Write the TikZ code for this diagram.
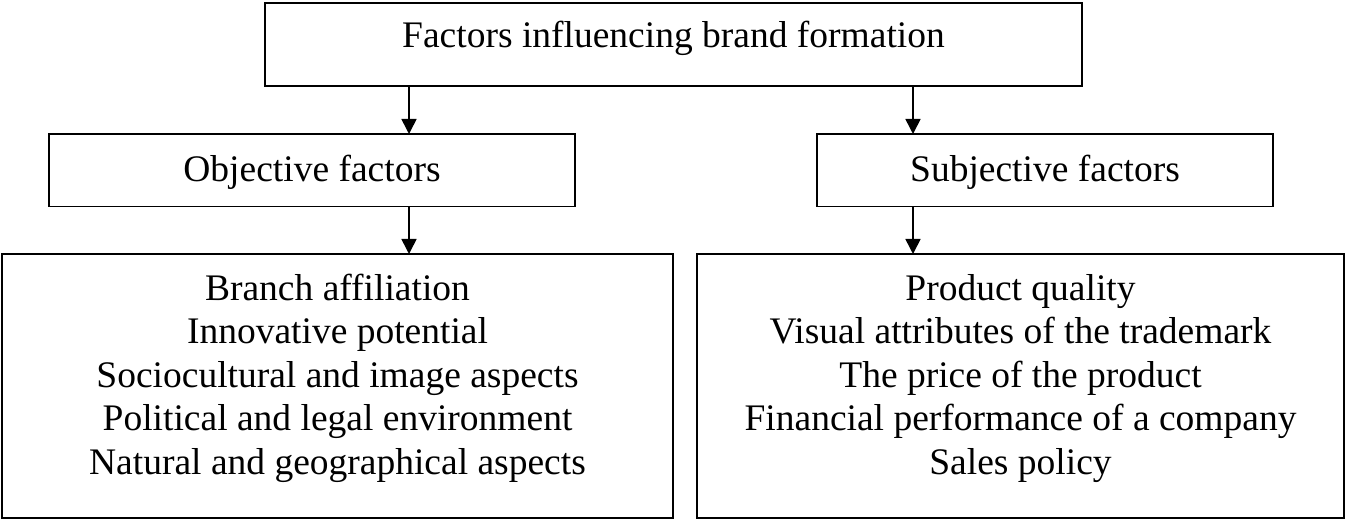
\documentclass[tikz,border=0pt]{standalone}
\usepackage{fontspec}
\setmainfont{Liberation Serif}
\usetikzlibrary{arrows.meta}
\begin{document}
\begin{tikzpicture}[x=1pt,y=1pt,
  box/.style={draw=black,line width=1.6pt,rectangle,inner sep=0pt,outer sep=0pt},
  lbl/.style={inner sep=0pt,anchor=base,font=\fontsize{37.5}{43.5}\selectfont},
  arr/.style={line width=1.6pt,-{Triangle[width=15pt,length=15pt]}}]
\useasboundingbox (0,0) rectangle (1346,520);
% boxes
\node[box,minimum width=817pt,minimum height=83pt] (top) at (673.5,475.5) {};
\node[box,minimum width=526pt,minimum height=72.5pt] (obj) at (312,349.75) {};
\node[box,minimum width=456pt,minimum height=72.5pt] (subj) at (1045,349.75) {};
\node[box,minimum width=671pt,minimum height=264pt] (objlist) at (337.5,134) {};
\node[box,minimum width=647pt,minimum height=264pt] (subjlist) at (1020.5,134) {};
% texts
\node[lbl] (toptxt) at (673.5,472) {Factors influencing brand formation};
\node[lbl] (objtxt) at (312,338) {Objective factors};
\node[lbl] (subjtxt) at (1045,338) {Subjective factors};
\node[lbl] (o1) at (337.5,220) {Branch affiliation};
\node[lbl] (o2) at (337.5,176.5) {Innovative potential};
\node[lbl] (o3) at (337.5,133) {Sociocultural and image aspects};
\node[lbl] (o4) at (337.5,89.5) {Political and legal environment};
\node[lbl] (o5) at (337.5,46) {Natural and geographical aspects};
\node[lbl] (s1) at (1020.5,220) {Product quality};
\node[lbl] (s2) at (1020.5,176.5) {Visual attributes of the trademark};
\node[lbl] (s3) at (1020.5,133) {The price of the product};
\node[lbl] (s4) at (1020.5,89.5) {Financial performance of a company};
\node[lbl] (s5) at (1020.5,46) {Sales policy};
% arrows
\draw[arr] (409,0 |- top.south) -- (409,0 |- obj.north);
\draw[arr] (913,0 |- top.south) -- (913,0 |- subj.north);
\draw[arr] (409,0 |- obj.south) -- (409,0 |- objlist.north);
\draw[arr] (913,0 |- subj.south) -- (913,0 |- subjlist.north);
\end{tikzpicture}
\end{document}
